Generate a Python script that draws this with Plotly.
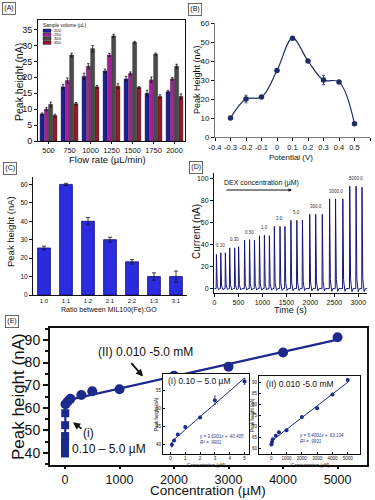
import plotly.graph_objects as go

W, H = 375, 500
FONT = "Liberation Sans, Arial, sans-serif"
NAVY = "#1c2a8c"

# ---- (A) flow rate / sample volume ----
FLOW_RATES = ["500", "750", "1000", "1250", "1500", "1750", "2000"]
VOLUMES = ["200", "250", "300", "350"]
A_200 = [8.5, 17.0, 20.3, 22.0, 19.5, 15.0, 15.5]
A_250 = [10.0, 19.0, 23.5, 27.0, 21.2, 19.2, 19.5]
A_300 = [11.5, 27.0, 29.0, 33.0, 31.0, 27.3, 23.5]
A_350 = [8.0, 11.7, 17.0, 17.2, 16.8, 14.0, 14.0]
A_ERR_200 = [0.3, 0.8, 1.0, 0.6, 0.8, 0.9, 0.4]
A_ERR_250 = [0.5, 0.8, 0.8, 0.5, 0.5, 0.9, 0.4]
A_ERR_300 = [0.7, 0.6, 1.0, 0.5, 0.3, 0.3, 0.6]
A_ERR_350 = [0.4, 0.4, 0.4, 0.8, 0.3, 0.5, 0.8]
A_COLORS = ["#1f1f9e", "#a3229a", "#4b4b4b", "#961a2e"]

# ---- (B) potential ----
B_POTENTIAL = [-0.3, -0.2, -0.1, 0.0, 0.1, 0.2, 0.3, 0.4, 0.5]
B_PEAK = [10, 20, 21, 35, 52, 40, 30, 29, 7]
B_ERR = [0.8, 2.0, 0.5, 0.6, 0.6, 0.6, 2.5, 0.5, 0.5]
B_TICKS = [-0.4, -0.3, -0.2, -0.1, 0.0, 0.1, 0.2, 0.3, 0.4, 0.5, 0.6]
B_TICKTEXT = ["-0.4", "-0.3", "-0.2", "-0.1", "0", "0.1", "0.2", "0.3", "0.4", "0.5", "0.6"]

# ---- (C) MIL100(Fe):GO ratio ----
C_RATIOS = ["1:0", "1:1", "1:2", "2:1", "2:2", "1:3", "3:1"]
C_PEAK = [25.5, 60.0, 40.0, 30.0, 18.0, 10.0, 10.0]
C_ERR = [1.0, 0.6, 2.0, 1.3, 1.2, 2.0, 3.0]

# ---- (D) amperometric trace ----
D_PEAK_TIMES = [41, 131, 227, 317, 421, 503, 627, 731, 834, 938, 1041, 1145,
                1248, 1366, 1469, 1593, 1717, 1834, 1986, 2110, 2248,
                2400, 2524, 2676, 2821, 2952, 3076]
D_PEAK_HEIGHTS = [31, 32.5, 32.5, 37, 37, 38, 44, 44.5, 44, 48, 48.5, 48,
                  56.5, 56.5, 56.5, 62, 62, 62, 67.5, 67.5, 67.5,
                  81.5, 81.5, 81.5, 93, 93, 92]
D_GROUP_LABELS = ["0.10", "0.30", "0.50", "1.0", "3.0", "5.0", "300.0", "3000.0", "5000.0"]
# shape of one injection peak: time offset (s) and fraction of peak height
PEAK_DT = [-6, 0, 3, 8, 16, 28, 45, 70]
PEAK_REL = [0.0, 1.0, 0.35, 0.18, 0.1, 0.04, -0.03, 0.0]

# ---- (E) calibration ----
E_LOW_CONC = [0.1, 0.25, 0.5, 1, 2, 3, 5]
E_LOW_PEAK = [39.8, 41.0, 42.7, 44.8, 47.5, 52.3, 57.6]
E_LOW_ERR = [0.6, 0.3, 0.3, 0.3, 0.3, 1.2, 0.8]
E_HIGH_CONC = [10, 50, 100, 300, 500, 1000, 2000, 3000, 4000, 5000]
E_HIGH_PEAK = [61.6, 62.8, 64.0, 65.7, 67.3, 68.2, 74.2, 78.2, 84.5, 91.2]
E_HIGH_ERR = [0.4, 0.4, 0.4, 0.4, 0.4, 0.4, 0.4, 0.6, 0.5, 0.5]
FIT_I = (3.6301, 40.405)   # slope per uM, intercept
FIT_II = (5.4001, 63.134)  # slope per mM, intercept


def dom_x(a, b):
    return [a / W, b / W]


def dom_y(top, bottom):
    return [1 - bottom / H, 1 - top / H]


def fit_low(x):
    return FIT_I[0] * x + FIT_I[1]


def fit_high(x):
    return FIT_II[0] * x / 1000 + FIT_II[1]


fig = go.Figure()

# (A)
for vals, errs, col in zip([A_200, A_250, A_300, A_350],
                           [A_ERR_200, A_ERR_250, A_ERR_300, A_ERR_350], A_COLORS):
    fig.add_trace(go.Bar(x=FLOW_RATES, y=vals, xaxis="x", yaxis="y", showlegend=False,
                         marker=dict(color=col, line=dict(color="#111", width=0.4)),
                         error_y=dict(array=errs, color="#111", thickness=0.8, width=1.2)))

# (B)
fig.add_trace(go.Scatter(x=B_POTENTIAL, y=B_PEAK, xaxis="x2", yaxis="y2", mode="lines+markers",
                         showlegend=False, line=dict(shape="spline", smoothing=1.0, color="#1f2b66", width=1.2),
                         marker=dict(size=5.5, color="#1f2b66"),
                         error_y=dict(array=B_ERR, color="#1f2b66", thickness=0.8, width=1.5)))

# (C)
fig.add_trace(go.Bar(x=C_RATIOS, y=C_PEAK, xaxis="x3", yaxis="y3", width=0.58, showlegend=False,
                     marker=dict(color="#2b2be0", line=dict(color="#0c0c6e", width=0.8)),
                     error_y=dict(array=C_ERR, color="#111", thickness=0.8, width=2)))

# (D)
dx, dy = [0], [0]
for t, h in zip(D_PEAK_TIMES, D_PEAK_HEIGHTS):
    for off, rel in zip(PEAK_DT, PEAK_REL):
        dx.append(t + off)
        dy.append(h * rel)
dx.append(3180)
dy.append(0)
fig.add_trace(go.Scatter(x=dx, y=dy, xaxis="x4", yaxis="y4", mode="lines", showlegend=False,
                         line=dict(color="#15157a", width=1)))

# (E) main
low_x = [E_LOW_CONC[0], E_LOW_CONC[-1], E_HIGH_CONC[0], E_HIGH_CONC[-1]]
low_y = [fit_low(E_LOW_CONC[0]), fit_low(E_LOW_CONC[-1]), fit_high(E_HIGH_CONC[0]), fit_high(E_HIGH_CONC[-1])]
fig.add_trace(go.Scatter(x=low_x, y=low_y, xaxis="x5", yaxis="y5", mode="lines", showlegend=False,
                         line=dict(color=NAVY, width=2.2)))
fig.add_trace(go.Scatter(x=E_LOW_CONC, y=E_LOW_PEAK, xaxis="x5", yaxis="y5", mode="markers", showlegend=False,
                         marker=dict(symbol="square", size=8, color=NAVY)))
fig.add_trace(go.Scatter(x=E_HIGH_CONC, y=E_HIGH_PEAK, xaxis="x5", yaxis="y5", mode="markers", showlegend=False,
                         marker=dict(symbol="circle", size=10, color=NAVY)))

# (E) inset I
fig.add_trace(go.Scatter(x=[E_LOW_CONC[0], E_LOW_CONC[-1]], y=[fit_low(E_LOW_CONC[0]), fit_low(E_LOW_CONC[-1])],
                         xaxis="x6", yaxis="y6", mode="lines", showlegend=False,
                         line=dict(color=NAVY, width=1)))
fig.add_trace(go.Scatter(x=E_LOW_CONC, y=E_LOW_PEAK, xaxis="x6", yaxis="y6", mode="markers", showlegend=False,
                         marker=dict(size=4, color=NAVY),
                         error_y=dict(array=E_LOW_ERR, color=NAVY, thickness=0.7, width=1)))
# (E) inset II
fig.add_trace(go.Scatter(x=[E_HIGH_CONC[0], E_HIGH_CONC[-1]], y=[fit_high(E_HIGH_CONC[0]), fit_high(E_HIGH_CONC[-1])],
                         xaxis="x7", yaxis="y7", mode="lines", showlegend=False,
                         line=dict(color=NAVY, width=1)))
fig.add_trace(go.Scatter(x=E_HIGH_CONC, y=E_HIGH_PEAK, xaxis="x7", yaxis="y7", mode="markers", showlegend=False,
                         marker=dict(size=4, color=NAVY),
                         error_y=dict(array=E_HIGH_ERR, color=NAVY, thickness=0.7, width=1)))


def axis(dom, size, **kw):
    base = dict(domain=dom, showline=True, linecolor="#111", linewidth=1, ticks="outside",
                ticklen=3, tickwidth=1, tickcolor="#111", showgrid=False, zeroline=False,
                tickfont=dict(size=size, family=FONT, color="#111"), automargin=False)
    base.update(kw)
    return base


fig.update_layout(
    width=W, height=H, margin=dict(l=0, r=0, t=0, b=0),
    paper_bgcolor="white", plot_bgcolor="white", font=dict(family=FONT, color="#111"),
    barmode="group", bargap=0.18, bargroupgap=0.08,
    xaxis=axis(dom_x(38, 185), 7.5, anchor="y", mirror=True, type="category", ticklen=2),
    yaxis=axis(dom_y(20, 141), 9, anchor="x", mirror=True, range=[0, 38], dtick=5),
    xaxis2=axis(dom_x(215, 370), 7.5, anchor="y2", range=[-0.4, 0.6], tickvals=B_TICKS,
                ticktext=B_TICKTEXT, linecolor="#777"),
    yaxis2=axis(dom_y(23, 137), 8, anchor="x2", range=[0, 60], dtick=10, linecolor="#777"),
    xaxis3=axis(dom_x(33, 187), 6, anchor="y3", type="category", ticks=""),
    yaxis3=axis(dom_y(177, 295), 6.5, anchor="x3", range=[0, 64], dtick=10),
    xaxis4=axis(dom_x(214, 367), 7, anchor="y4", range=[-10, 3180], dtick=500),
    yaxis4=axis(dom_y(173, 293), 7, anchor="x4", range=[-4, 105], dtick=20),
    xaxis5=axis(dom_x(50, 367), 12.5, anchor="y5", mirror=True, linewidth=2, range=[-275, 5540],
                dtick=1000, ticklen=2, tickwidth=1.5),
    yaxis5=axis(dom_y(328, 465), 14, anchor="x5", mirror=True, linewidth=2, range=[34.7, 95.3],
                dtick=10, ticklen=5, tickwidth=1.5,
                minor=dict(dtick=5, ticks="outside", ticklen=3, tickcolor="#111")),
    xaxis6=axis(dom_x(163, 249), 4.5, anchor="y6", mirror=True, range=[-0.5, 5.3], dtick=1,
                ticks="inside", ticklen=2),
    yaxis6=axis(dom_y(374, 454), 4.5, anchor="x6", mirror=True, range=[37.2, 59.7], dtick=5,
                ticks="inside", ticklen=2),
    xaxis7=axis(dom_x(259, 360), 4.5, anchor="y7", mirror=True, range=[-800, 5800], dtick=1000,
                ticks="inside", ticklen=2),
    yaxis7=axis(dom_y(376, 454), 4.5, anchor="x7", mirror=True, range=[57.3, 93], dtick=5,
                ticks="inside", ticklen=2),
)

ann = []


def text_px(x, y, s, size, angle=0, **kw):
    d = dict(x=x / W, y=1 - y / H, xref="paper", yref="paper", text=s, showarrow=False,
             xanchor="center", yanchor="middle",
             textangle=angle, font=dict(size=size, family=FONT, color="#111"))
    d.update(kw)
    ann.append(d)


# panel labels
for lab, cx, cy in [("(A)", 9, 8), ("(B)", 195, 9), ("(C)", 10, 168), ("(D)", 196, 167), ("(E)", 12, 321)]:
    text_px(cx, cy, lab, 7, bordercolor="#444", borderwidth=0.8, borderpad=1.5)

# axis titles
text_px(19, 82, "Peak height (nA)", 10.5, angle=-90)
text_px(108, 159.5, "Flow rate (µL/min)", 9.5)
text_px(197, 80, "Peak Height (nA)", 9, angle=-90)
text_px(291, 157, "Potential (V)", 8)
text_px(11, 232, "Peak height (nA)", 9.5, angle=-90)
text_px(109, 310, "Ratio between MIL100(Fe):GO", 7)
text_px(197, 232, "Current (nA)", 10, angle=-90)
text_px(290, 310, "Time (s)", 9)
text_px(18, 397, "Peak height (nA)", 17, angle=-90)
text_px(208, 490.5, "Concentration (µM)", 13.5)

# (A) legend
text_px(41, 25, "Sample volume (µL)", 4.8, xanchor="left")
shapes = []
for i, (vol, col) in enumerate(zip(VOLUMES, A_COLORS)):
    y0 = 29 + i * 4
    shapes.append(dict(type="rect", xref="paper", yref="paper", x0=43 / W, x1=51 / W,
                       y0=1 - (y0 + 3.4) / H, y1=1 - y0 / H, fillcolor=col,
                       line=dict(color="#111", width=0.4)))
    text_px(52, y0 + 1.7, vol, 4.2, xanchor="left")

# (D) concentration labels and arrow
for g, lab in enumerate(D_GROUP_LABELS):
    ts = D_PEAK_TIMES[3 * g:3 * g + 3]
    hs = D_PEAK_HEIGHTS[3 * g:3 * g + 3]
    ann.append(dict(x=sum(ts) / 3, y=max(hs), xref="x4", yref="y4", text=lab, showarrow=False,
                    yanchor="bottom", yshift=3, font=dict(size=4.5, family=FONT, color="#333")))
text_px(222, 183, "DEX concentration (µM)", 7, xanchor="left")
ann.append(dict(x=292 / W, y=1 - 190 / H, ax=-67, ay=0, xref="paper", yref="paper",
                text="", showarrow=True, arrowhead=2, arrowsize=0.7,
                arrowwidth=1, arrowcolor="#111"))

# (E) annotations
ann.append(dict(x=1468, y=84.7, xref="x5", yref="y5", text="(II) 0.010 -5.0 mM", showarrow=False,
                font=dict(size=12, family=FONT, color="#111")))
ann.append(dict(x=1431, y=73.8, ax=1193, ay=80.4, xref="x5", yref="y5", axref="x5", ayref="y5",
                text="", showarrow=True, arrowhead=2, arrowsize=0.8, arrowwidth=1.8, arrowcolor="#111"))
ann.append(dict(x=422, y=48.8, xref="x5", yref="y5", text="(i)", showarrow=False,
                font=dict(size=12, family=FONT, color="#111")))
ann.append(dict(x=147, y=53.6, ax=330, ay=50.3, xref="x5", yref="y5", axref="x5", ayref="y5",
                text="", showarrow=True, arrowhead=2, arrowsize=0.8, arrowwidth=1.8, arrowcolor="#111"))
ann.append(dict(x=90, y=42.0, xref="x5", yref="y5", text="0.10 – 5.0 µM", showarrow=False,
                xanchor="left", font=dict(size=12, family=FONT, color="#111")))

# insets text
ann.append(dict(x=-0.3, y=57.6, xref="x6", yref="y6", text="(I) 0.10 – 5.0 µM", showarrow=False,
                xanchor="left", font=dict(size=8.5, family=FONT, color="#111")))
ann.append(dict(x=1.8, y=41.2, xref="x6", yref="y6", showarrow=False, xanchor="left", align="left",
                text="<i>y = 3.6301x +  40.405<br>R² = .9901</i>", font=dict(size=4.5, family=FONT, color="#2b3a8c")))
ann.append(dict(x=-500, y=89.5, xref="x7", yref="y7", text="(II) 0.010 -5.0 mM", showarrow=False,
                xanchor="left", font=dict(size=8.5, family=FONT, color="#111")))
ann.append(dict(x=1700, y=64.3, xref="x7", yref="y7", showarrow=False, xanchor="left", align="left",
                text="<i>y = 5.4001x +  63.134<br>R² = .9931</i>", font=dict(size=4.5, family=FONT, color="#2b3a8c")))
text_px(156, 414, "Peak height (nA)", 4.5, angle=-90)
text_px(206, 465, "Concentration (µM)", 4.5)
text_px(252, 415, "Peak height (nA)", 4.5, angle=-90)
text_px(310, 465, "Concentration (µM)", 4.5)

fig.update_layout(annotations=ann, shapes=shapes)
fig.write_html("out.html", config={"displayModeBar": False},
               post_script="document.body.style.margin='0';")
